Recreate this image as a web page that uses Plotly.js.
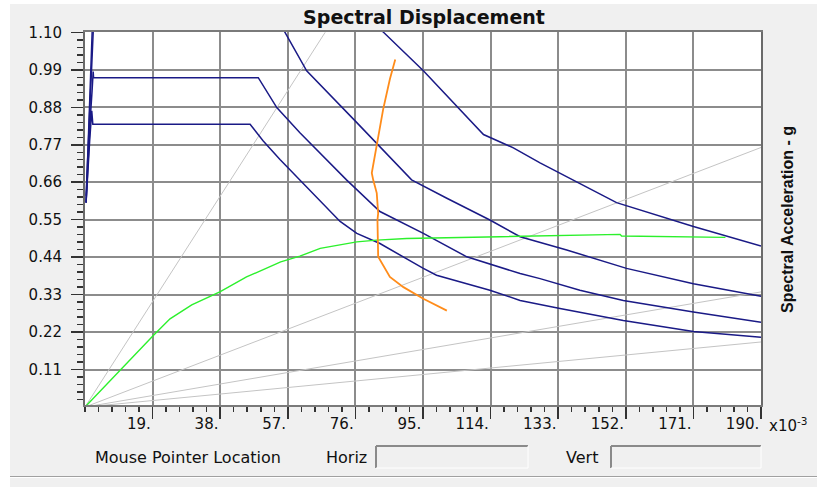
<!DOCTYPE html>
<html><head><meta charset="utf-8">
<script src="https://cdn.plot.ly/plotly-3.0.1.min.js"></script>
<style>html,body{margin:0;padding:0;background:#fff;}#chart{width:817px;height:487px;}</style>
</head><body><div id="chart"></div>
<script>
// ---- data (Sd in x10^-3 units, Sa in g) ----
const xTickVals = [19, 38, 57, 76, 95, 114, 133, 152, 171, 190];
const xTickText = ["19.", "38.", "57.", "76.", "95.", "114.", "133.", "152.", "171.", "190."];
const yTickVals = [0.11, 0.22, 0.33, 0.44, 0.55, 0.66, 0.77, 0.88, 0.99, 1.10];
const yTickText = ["0.11", "0.22", "0.33", "0.44", "0.55", "0.66", "0.77", "0.88", "0.99", "1.10"];

// constant-period radial lines
const period1X = [0, 67.5], period1Y = [0, 1.10];
const period2X = [0, 190],  period2Y = [0, 0.762];
const period3X = [0, 190],  period3Y = [0, 0.338];
const period4X = [0, 190],  period4Y = [0, 0.191];

// demand spectra (dark blue)
const demandAX = [0.3, 0.8, 1.3, 1.9, 2.2, 46.4, 50.1, 54.8, 60.4, 66.1, 71.7, 76.4, 82.9, 95.1, 98.8, 113.8, 122.3, 133.5, 151.3, 171, 190];
const demandAY = [0.60, 0.70, 0.78, 0.87, 0.83, 0.83, 0.781, 0.727, 0.667, 0.608, 0.545, 0.51, 0.48, 0.407, 0.387, 0.343, 0.313, 0.289, 0.254, 0.222, 0.205];
const demandBX = [0.3, 0.9, 1.5, 2.0, 2.3, 2.4, 48.7, 53.9, 60.4, 73.5, 82.9, 95.1, 107.3, 122.3, 127.9, 139.1, 151.3, 171, 190];
const demandBY = [0.60, 0.74, 0.85, 0.93, 0.985, 0.967, 0.967, 0.879, 0.805, 0.667, 0.574, 0.51, 0.441, 0.392, 0.377, 0.343, 0.313, 0.279, 0.249];
const demandCX = [0.3, 0.9, 1.4, 1.8, 2.1, 2.4, 50, 56.2, 62.3, 76.4, 91.8, 101.7, 113.8, 122.3, 135.4, 152.2, 171, 190];
const demandCY = [0.60, 0.78, 0.90, 1.00, 1.10, 1.215, 1.215, 1.10, 0.987, 0.835, 0.667, 0.613, 0.549, 0.50, 0.461, 0.407, 0.362, 0.325];
const demandDX = [0.3, 1.0, 1.6, 2.1, 2.3, 2.6, 45, 83.9, 95.1, 112, 120.4, 127.9, 138.2, 149.4, 171, 190];
const demandDY = [0.62, 0.80, 0.95, 1.08, 1.10, 1.5, 1.5, 1.10, 0.987, 0.80, 0.761, 0.717, 0.662, 0.60, 0.53, 0.473];

// capacity curve (green)
const capacityX = [0, 10, 19.2, 23.9, 30, 37.9, 45.4, 55, 60.4, 66.1, 76.4, 82, 90.4, 116.6, 150.4, 150.8, 170.5, 180];
const capacityY = [0, 0.11, 0.21, 0.259, 0.30, 0.338, 0.382, 0.426, 0.443, 0.466, 0.485, 0.49, 0.495, 0.50, 0.507, 0.502, 0.498, 0.498];

// performance path (orange)
const pathX = [87.2, 85.7, 83.8, 82.0, 80.6, 81.0, 82.0, 82.4, 82.2, 82.4, 85.7, 89.5, 95.1, 101.7];
const pathY = [1.02, 0.963, 0.874, 0.771, 0.687, 0.667, 0.628, 0.569, 0.549, 0.441, 0.382, 0.352, 0.318, 0.283];

// ---- layout helpers ----
const W = 817, H = 487, L = 85, R = 56, T = 32, B = 82;
const pw = W - L - R, ph = H - T - B;
const px = v => (v - L) / pw;
const py = v => (H - B - v) / ph;

const gray = {color: '#c4c4c4', width: 1};
const blue = {color: '#1a1a86', width: 1.5};
function line(x, y, ln) { return {x: x, y: y, type: 'scatter', mode: 'lines', line: ln, hoverinfo: 'skip', showlegend: false}; }

const traces = [
  line(period1X, period1Y, gray), line(period2X, period2Y, gray),
  line(period3X, period3Y, gray), line(period4X, period4Y, gray),
  line(demandAX, demandAY, blue), line(demandBX, demandBY, blue),
  line(demandCX, demandCY, blue), line(demandDX, demandDY, blue),
  line(capacityX, capacityY, {color: '#2cf02c', width: 1.4}),
  line(pathX, pathY, {color: '#ff8c1a', width: 1.8})
];

function rect(x0, y0, x1, y1, fill) {
  return {type: 'rect', xref: 'paper', yref: 'paper', x0: px(x0), x1: px(x1), y0: py(y0), y1: py(y1), fillcolor: fill, line: {width: 0}, layer: 'above'};
}
function seg(x0, y0, x1, y1, color, w) {
  return {type: 'line', xref: 'paper', yref: 'paper', x0: px(x0), x1: px(x1), y0: py(y0), y1: py(y1), line: {color: color, width: w}, layer: 'above'};
}
function box(x0, y0, x1, y1) {
  return [rect(x0, y0, x1, y1, '#f0f0f0'),
    seg(x0, y0, x1, y0, '#8a8a8a', 2), seg(x0, y0, x0, y1, '#8a8a8a', 2),
    seg(x0, y1, x1, y1, '#ffffff', 1), seg(x1, y0, x1, y1, '#ffffff', 1)];
}
function label(text, x, y, opts) {
  return Object.assign({text: text, xref: 'paper', yref: 'paper', x: px(x), y: py(y), showarrow: false,
    xanchor: 'center', yanchor: 'middle', font: {family: 'DejaVu Sans', size: 15, color: '#111'}}, opts || {});
}

const layout = {
  width: W, height: H,
  margin: {l: L, r: R, t: T, b: B, pad: 0},
  paper_bgcolor: '#f0f0f0', plot_bgcolor: '#ffffff',
  showlegend: false,
  title: {text: 'Spectral Displacement', xref: 'container', yref: 'container', x: 424 / W, y: 1 - 17 / H,
    xanchor: 'center', yanchor: 'middle', font: {family: 'DejaVu Sans', size: 19, weight: 'bold', color: '#111'}},
  xaxis: {
    range: [0, 190], tickmode: 'array', tickvals: xTickVals, ticktext: xTickText,
    ticks: 'outside', ticklen: 12, tickwidth: 1.5, tickcolor: '#333',
    ticklabelposition: 'outside left', ticklabelstandoff: 4,
    tickfont: {family: 'DejaVu Sans', size: 15, color: '#111'},
    showgrid: true, gridcolor: '#8c8c8c', gridwidth: 2,
    showline: true, linecolor: '#7a7a7a', linewidth: 2, mirror: true,
    zeroline: false, fixedrange: true,
    minor: {tickmode: 'linear', tick0: 0, dtick: 3.8, ticks: 'outside', ticklen: 5, tickwidth: 1.5, tickcolor: '#333', showgrid: false}
  },
  yaxis: {
    range: [0.006, 1.101], tickmode: 'array', tickvals: yTickVals, ticktext: yTickText,
    ticks: 'outside', ticklen: 12, tickwidth: 1.5, tickcolor: '#333',
    ticklabelstandoff: 6,
    tickfont: {family: 'DejaVu Sans', size: 15, color: '#111'},
    showgrid: true, gridcolor: '#8c8c8c', gridwidth: 2,
    showline: true, linecolor: '#6a6a6a', linewidth: 2, mirror: true,
    zeroline: false, fixedrange: true,
    minor: {tickmode: 'linear', tick0: 0, dtick: 0.022, ticks: 'outside', ticklen: 6, tickwidth: 1.5, tickcolor: '#333', showgrid: false}
  },
  shapes: [
    rect(0, 0, 817, 4, '#ffffff'),
    rect(0, 0, 10, 487, '#ffffff'),
    seg(10, 476.5, 817, 476.5, '#a0a0a0', 1),
    seg(10, 477.5, 817, 477.5, '#ffffff', 1)
  ].concat(box(376, 446, 528, 468), box(611, 446, 761, 468)),
  annotations: [
    {text: 'Spectral Acceleration - g', xref: 'paper', yref: 'paper', x: px(787), y: py(220), textangle: -90,
      showarrow: false, xanchor: 'center', yanchor: 'middle',
      font: {family: 'Liberation Sans, Arial', size: 16, weight: 'bold', color: '#111'}},
    label('x10<sup>-3</sup>', 767, 425, {xanchor: 'left', font: {family: 'DejaVu Sans', size: 15, color: '#111'}}),
    label('Mouse Pointer Location', 188, 457, {font: {family: 'DejaVu Sans', size: 16, color: '#111'}}),
    label('Horiz', 346, 457, {font: {family: 'DejaVu Sans', size: 16, color: '#111'}}),
    label('Vert', 582, 457, {font: {family: 'DejaVu Sans', size: 16, color: '#111'}})
  ]
};

Plotly.newPlot('chart', traces, layout, {displayModeBar: false, staticPlot: true});
</script>
</body></html>
